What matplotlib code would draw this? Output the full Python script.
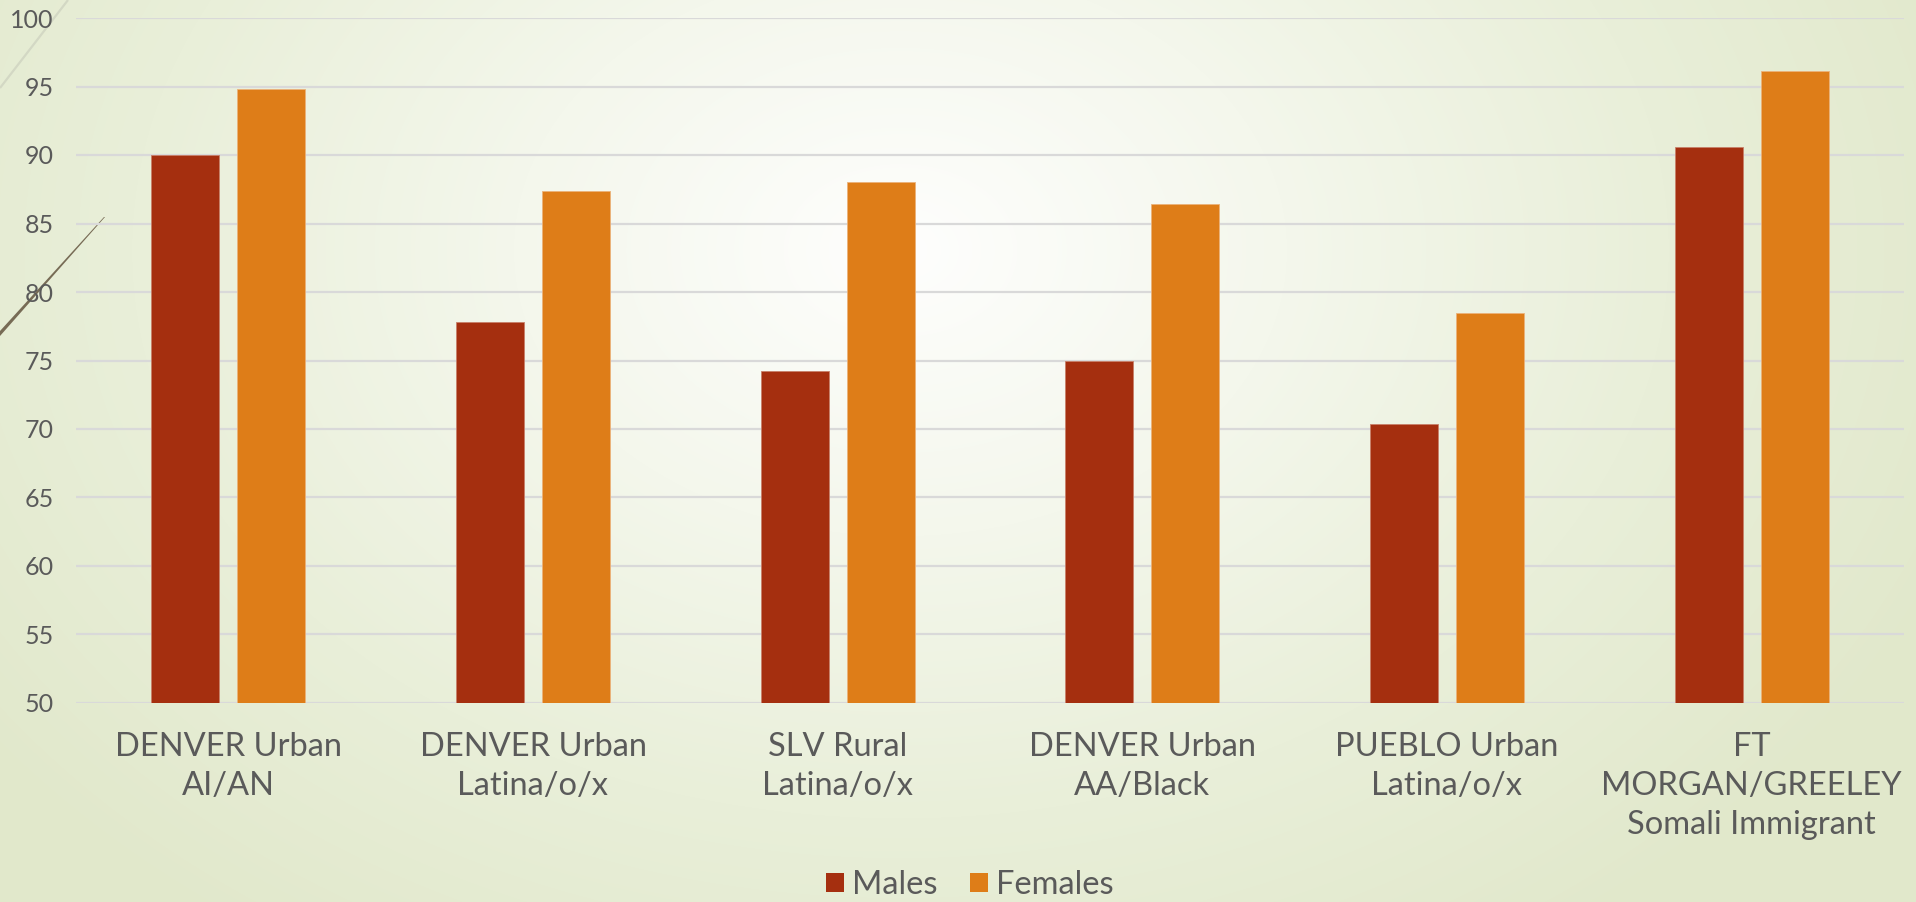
import numpy as np
import matplotlib
matplotlib.use("Agg")
import matplotlib.pyplot as plt
from matplotlib.patches import Patch, Polygon
from matplotlib.colors import LinearSegmentedColormap

# --- data ---------------------------------------------------------------
categories = [
    "DENVER Urban\nAI/AN",
    "DENVER Urban\nLatina/o/x",
    "SLV Rural\nLatina/o/x",
    "DENVER Urban\nAA/Black",
    "PUEBLO Urban\nLatina/o/x",
    "FT\nMORGAN/GREELEY\nSomali Immigrant",
]
males = [90.0, 77.8, 74.2, 75.0, 70.4, 90.6]
females = [94.8, 87.4, 88.0, 86.4, 78.5, 96.1]
series_names = ["Males", "Females"]
y_ticks = [50, 55, 60, 65, 70, 75, 80, 85, 90, 95, 100]

# --- style --------------------------------------------------------------
MALE_COLOR = "#A52F0F"
FEMALE_COLOR = "#DE7D18"
TEXT_COLOR = "#5A5A5A"
GRID_COLOR = "#D9D9D9"
FONT = ["Lato", "DejaVu Sans"]

W, H = 1916, 902
fig = plt.figure(figsize=(W / 100, H / 100), dpi=100)

# soft radial background wash
bg = fig.add_axes([0, 0, 1, 1], zorder=-10)
yy, xx = np.mgrid[0:H, 0:W]
r = np.sqrt(((xx - 900) / 1150.0) ** 2 + ((yy - 250) / 850.0) ** 2)
r = np.clip(r, 0, 1)
cmap = LinearSegmentedColormap.from_list(
    "wash", ["#FEFEFD", "#F4F7EC", "#E9EFD9", "#E1E8CB"])
bg.imshow(r, cmap=cmap, vmin=0, vmax=1, aspect="auto",
          extent=[0, W, H, 0], interpolation="bilinear")
bg.set_xlim(0, W)
bg.set_ylim(H, 0)
bg.axis("off")

# decorative diagonal strokes at the left edge
bg.plot([0, 68], [88, 0], color="#D3D8C4", lw=1.6, solid_capstyle="butt")
bg.add_patch(Polygon([[0, 331], [0, 336], [105, 217], [104, 217]],
                     closed=True, facecolor="#776B55", edgecolor="none"))

# --- chart --------------------------------------------------------------
ax = fig.add_axes([76 / W, 1 - 703 / H, (1904 - 76) / W, (703 - 18) / H])
ax.set_facecolor("none")

x = np.arange(len(categories))
width = 0.223
offset = 0.141
ax.bar(x - offset, [m - 50 for m in males], width, bottom=50,
       color=MALE_COLOR, edgecolor="#C8806A", linewidth=0.6, zorder=3,
       label=series_names[0])
ax.bar(x + offset, [f - 50 for f in females], width, bottom=50,
       color=FEMALE_COLOR, edgecolor="#EBB27A", linewidth=0.6, zorder=3,
       label=series_names[1])

ax.set_xlim(-0.5, len(categories) - 0.5)
ax.set_ylim(50, 100)
ax.set_yticks(y_ticks)
ax.set_yticklabels([str(t) for t in y_ticks], fontfamily=FONT,
                   fontsize=18, color=TEXT_COLOR)
ax.yaxis.grid(True, color=GRID_COLOR, linewidth=1.6, zorder=0)
ax.set_axisbelow(True)
ax.tick_params(axis="y", length=0, pad=16)
ax.tick_params(axis="x", length=0, pad=21)
ax.set_xticks(x)
ax.set_xticklabels(categories, fontfamily=FONT, fontsize=23.5,
                   color=TEXT_COLOR, linespacing=1.38)
for s in ax.spines.values():
    s.set_visible(False)

handles = [Patch(facecolor=MALE_COLOR, edgecolor="none"),
           Patch(facecolor=FEMALE_COLOR, edgecolor="none")]
fig.legend(handles, series_names, loc="center", bbox_to_anchor=(970 / W, 1 - 885 / H),
           ncol=2, frameon=False, prop={"family": FONT, "size": 23.5},
           labelcolor=TEXT_COLOR, handlelength=0.55, handleheight=0.55,
           handletextpad=0.25, columnspacing=1.0, borderpad=0)

fig.savefig("out.png", dpi=100)
